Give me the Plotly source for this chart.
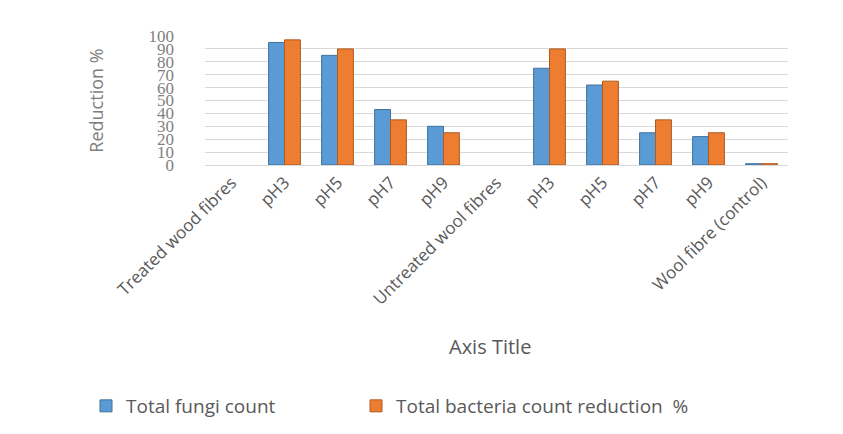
import plotly.graph_objects as go

categories = ["Treated wood fibres", "pH3", "pH5", "pH7", "pH9",
              "Untreated wool fibres", "pH3", "pH5", "pH7", "pH9",
              "Wool fibre (control)"]
fungi = [None, 95, 85, 43, 30, None, 75, 62, 25, 22, 1]
bacteria = [None, 97, 90, 35, 25, None, 90, 65, 35, 25, 1]
series_names = ["Total fungi count", "Total bacteria count reduction  %"]
y_ticks = list(range(0, 101, 10))

xpos = list(range(len(categories)))

fig = go.Figure()
fig.add_trace(go.Bar(x=xpos, y=fungi, name=series_names[0], legend="legend", showlegend=True,
                     marker=dict(color="#5B9BD5", line=dict(color="#41719C", width=1))))
fig.add_trace(go.Bar(x=xpos, y=bacteria, name=series_names[1], legend="legend2", showlegend=True,
                     marker=dict(color="#ED7D31", line=dict(color="#AE5A21", width=1))))

W, H = 843, 434
plot_top, plot_bottom = 36, 165
plot_left, plot_right = 205, 788
plot_h = plot_bottom - plot_top

legend_font = dict(size=19, family="Open Sans", color="#595959")

fig.update_layout(
    width=W, height=H, showlegend=True,
    margin=dict(l=plot_left, r=W - plot_right, t=plot_top, b=H - plot_bottom, autoexpand=False),
    paper_bgcolor="white", plot_bgcolor="white",
    barmode="group", bargap=0.4, bargroupgap=0,
    font=dict(family="Open Sans", color="#595959"),
    xaxis=dict(tickmode="array", tickvals=xpos, ticktext=categories,
               tickangle=-45, range=[-0.5, len(categories) - 0.5], automargin=False,
               tickfont=dict(size=17, family="Open Sans", color="#595959"),
               showgrid=False, showline=True, linecolor="#D9D9D9", zeroline=False),
    yaxis=dict(range=[0, 100], tickvals=y_ticks, automargin=False,
               tickfont=dict(size=17, family="Liberation Serif", color="#7F7F7F"),
               gridcolor="#D9D9D9", zeroline=False, ticklabelstandoff=30,
               title=dict(text="Reduction %", font=dict(size=18, family="Open Sans", color="#7F7F7F"),
                          standoff=40)),
    legend=dict(orientation="h", xref="container", yref="container",
                x=86 / W, xanchor="left", y=1 - 406 / H, yanchor="middle",
                font=legend_font),
    legend2=dict(orientation="h", xref="container", yref="container",
                 x=356 / W, xanchor="left", y=1 - 406 / H, yanchor="middle",
                 font=legend_font),
    annotations=[dict(text="Axis Title", xref="paper", yref="paper",
                      x=(490 - plot_left) / (plot_right - plot_left),
                      y=(plot_bottom - 346) / plot_h, yanchor="middle",
                      showarrow=False,
                      font=dict(size=20, family="Open Sans", color="#595959"))],
)

fig.write_html("out.html", config={"displayModeBar": False},
               post_script="document.body.style.margin='0';")
